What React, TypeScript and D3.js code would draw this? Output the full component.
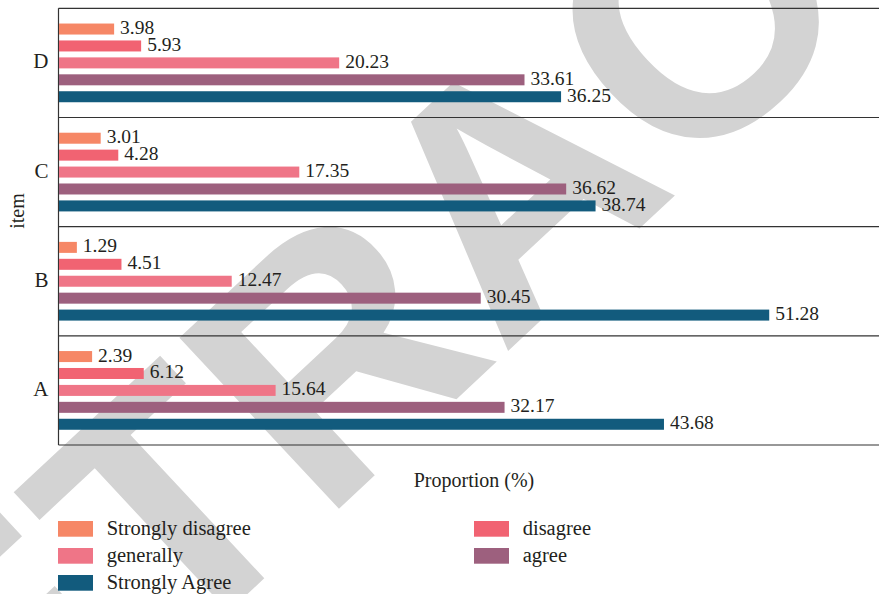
import React from "react";
import * as d3 from "d3";

const categories = ["D", "C", "B", "A"];
const seriesNames = ["Strongly disagree", "disagree", "generally", "agree", "Strongly Agree"];
const seriesColors = ["#F68766", "#F16372", "#EF7587", "#9D607E", "#125B7D"];
const stronglyDisagree = [3.98, 3.01, 1.29, 2.39];
const disagree = [5.93, 4.28, 4.51, 6.12];
const generally = [20.23, 17.35, 12.47, 15.64];
const agree = [33.61, 36.62, 30.45, 32.17];
const stronglyAgree = [36.25, 38.74, 51.28, 43.68];
const seriesValues = [stronglyDisagree, disagree, generally, agree, stronglyAgree];
const xTitle = "Proportion (%)";
const yTitle = "item";
const watermark = "RETRACTED";

const W = 879;
const H = 594;
const FONT = "'Liberation Serif', 'Times New Roman', serif";
const TEXT = "#231f20";

export default function App() {
  const left = 58.5;
  const top = 8.3;
  const bottom = 445;
  const right = 890;

  const x = d3.scaleLinear().domain([0, 60]).range([59, 890]);
  const y = d3.scaleBand<string>().domain(categories).range([top, bottom]).padding(0);
  const inner = d3
    .scaleBand<string>()
    .domain(seriesNames)
    .range([0, y.bandwidth()])
    .paddingInner(0.35)
    .paddingOuter(0.9);

  const boundaries = categories.map((c) => y(c)!).concat([bottom]);

  return (
    <svg width={W} height={H} style={{ display: "block", position: "absolute", left: 0, top: 0 }}>
      <rect x={0} y={0} width={W} height={H} fill="#fff" />
      <text
        transform="translate(-175,988) rotate(-43)"
        fontFamily="'Liberation Sans', Arial, sans-serif"
        fontWeight="bold"
        fontSize={340}
        fill="#d3d3d3"
      >
        {watermark}
      </text>

      {boundaries.map((b, i) => (
        <line key={"sep" + i} x1={left} x2={right} y1={b} y2={b} stroke="#333" strokeWidth={1.2} />
      ))}
      <line x1={left} x2={left} y1={top} y2={bottom} stroke="#333" strokeWidth={1.2} />

      {categories.map((c, ci) => (
        <g key={c} transform={`translate(0,${y(c)})`}>
          {seriesNames.map((s, si) => {
            const v = seriesValues[si][ci];
            const by = inner(s)!;
            const bh = inner.bandwidth();
            return (
              <g key={s}>
                <rect x={x(0)} y={by} width={x(v) - x(0)} height={bh} fill={seriesColors[si]} />
                <text x={x(v) + 6} y={by + bh - 0.5} fontFamily={FONT} fontSize={19.5} fill={TEXT}>
                  {v.toFixed(2)}
                </text>
              </g>
            );
          })}
          <text
            x={48.5}
            y={y.bandwidth() / 2 + 5.5}
            textAnchor="end"
            fontFamily={FONT}
            fontSize={21}
            fill={TEXT}
          >
            {c}
          </text>
        </g>
      ))}

      <text
        transform="translate(24,211) rotate(-90)"
        textAnchor="middle"
        fontFamily={FONT}
        fontSize={20}
        fill={TEXT}
      >
        {yTitle}
      </text>
      <text x={474} y={487} textAnchor="middle" fontFamily={FONT} fontSize={20} fill={TEXT}>
        {xTitle}
      </text>

      {seriesNames.map((s, i) => {
        const col = i % 2;
        const row = Math.floor(i / 2);
        const lx = col === 0 ? 58 : 474;
        const ly = 521 + row * 27;
        return (
          <g key={"leg" + s}>
            <rect x={lx} y={ly} width={35} height={15.7} fill={seriesColors[i]} />
            <text x={lx + 48.7} y={ly + 14} fontFamily={FONT} fontSize={20.5} fill={TEXT}>
              {s}
            </text>
          </g>
        );
      })}
    </svg>
  );
}
